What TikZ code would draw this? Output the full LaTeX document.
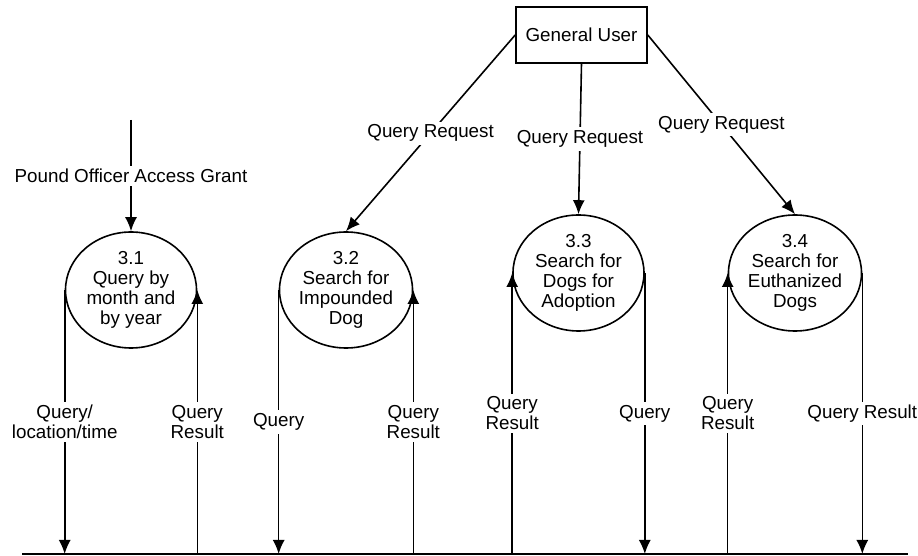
\documentclass[tikz,border=0pt]{standalone}
\usepackage{fontspec}
\setmainfont{Liberation Sans}
\usetikzlibrary{positioning,shapes,arrows.meta}
\tikzstyle{process}=[draw,ellipse,inner sep=0pt,minimum width=65.5pt,minimum height=58pt,align=center]
\tikzstyle{entity}=[draw,rectangle,minimum width=65.5pt,minimum height=28pt]
\tikzstyle{flowlabel}=[fill=white,align=center,inner sep=1.5pt]
\newcommand{\newProcess}[3]{\node[process](#1) at (#3) {#2};}
\newcommand{\newFlow}[4]{\draw[->] (#1) -- node[flowlabel,#4] {#3} (#2);}

\begin{document}
\begin{tikzpicture}[x=0.5pt,y=-0.5pt,
      >={Latex[length=7pt,width=6pt]},
      font=\fontsize{9.4}{10}\selectfont,
      line width=0.8pt  %thin, semithick
      ]
      \useasboundingbox (0,0) rectangle (918,556);
      \node[entity](user) at (581.5,35) {General User};
      \newProcess{p31}{3.1\\Query by\\month and\\by year}{131,290}
      \newProcess{p32}{3.2\\Search for\\Impounded\\Dog}{346,290}
      \newProcess{p33}{3.3\\Search for\\Dogs for\\Adoption}{578.5,273}
      \newProcess{p34}{3.4\\Search for\\Euthanized\\Dogs}{795,273}
      \coordinate (grant) at (131,120);
      \coordinate (dsw) at (22,554);
      \coordinate (dse) at (908,554);
      \draw (dsw) -- (dse);
      % flows into the processes
      \newFlow{grant}{p31.north}{Pound Officer Access Grant}{}
      \newFlow{user.west}{p32.north}{Query Request}{}
      \newFlow{user.south}{p33.north}{Query Request}{}
      \newFlow{user.east}{p34.north}{Query Request}{}
      % flows to and from the store
      \newFlow{p31.west}{p31.west |- dsw}{Query/\\location/time}{}
      \newFlow{p31.east |- dsw}{p31.east}{Query\\Result}{}
      \newFlow{p32.west}{p32.west |- dsw}{Query}{}
      \newFlow{p32.east |- dsw}{p32.east}{Query\\Result}{}
      \newFlow{p33.west |- dsw}{p33.west}{Query\\Result}{}
      \newFlow{p33.east}{p33.east |- dsw}{Query}{}
      \newFlow{p34.west |- dsw}{p34.west}{Query\\Result}{}
      \newFlow{p34.east}{p34.east |- dsw}{Query Result}{}
    \end{tikzpicture}
\end{document}
